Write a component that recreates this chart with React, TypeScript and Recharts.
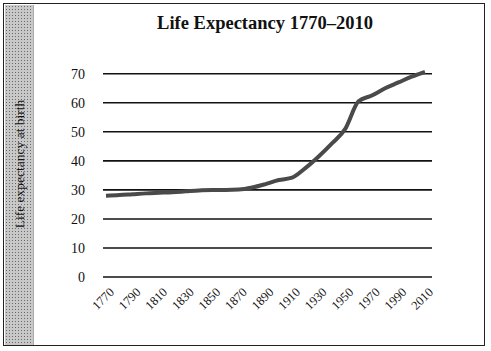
import { CartesianGrid, Line, LineChart, XAxis, YAxis } from 'recharts';

const years = [
  '1770', '1780', '1790', '1800', '1810', '1820', '1830', '1840', '1850', '1860', '1870', '1880', '1890',
  '1900', '1910', '1920', '1930', '1940', '1950', '1960', '1970', '1980', '1990', '2000', '2010',
];
const lifeExpectancy = [
  28, 28.2, 28.5, 28.8, 29, 29.2, 29.5, 29.8, 30, 30, 30.1, 30.8, 32,
  33.4, 34.2, 37.5, 41.5, 46, 51, 60.5, 62.5, 65, 67, 69, 70.6,
];
const yTicks = [0, 10, 20, 30, 40, 50, 60, 70];

const data = years.map((year, i) => ({ year, value: lifeExpectancy[i] }));

const serif = '"Liberation Serif", "DejaVu Serif", serif';

function YearTick(props: any) {
  const { x, y, payload } = props;
  return (
    <g transform={`translate(${x + 6},${y + 5})`}>
      <text transform="rotate(-45)" textAnchor="end" fontFamily={serif} fontSize={12.5} fill="#111" dy={4}>
        {payload.value}
      </text>
    </g>
  );
}

export default function App() {
  return (
    <div style={{ position: 'absolute', left: 0, top: 0, width: 491, height: 351, background: '#fff' }}>
      <div
        style={{
          position: 'absolute', left: 3, top: 3, width: 482, height: 343,
          border: '1.5px solid #222', boxSizing: 'border-box',
        }}
      />
      <div
        style={{
          position: 'absolute', left: 5, top: 5, width: 28, height: 340,
          backgroundColor: '#c8c8c8',
          backgroundImage: 'radial-gradient(#6a6a6a 0.7px, transparent 0.9px)',
          backgroundSize: '3px 3px',
          borderRight: '1px solid #aaa',
        }}
      />
      <div
        style={{
          position: 'absolute', left: 20, top: 164, transform: 'translate(-50%,-50%) rotate(-90deg)',
          whiteSpace: 'nowrap', fontFamily: serif, fontSize: 13.5, color: '#111',
        }}
      >
        Life expectancy at birth
      </div>
      <div
        style={{
          position: 'absolute', left: 265, top: 23, transform: 'translate(-50%,-50%)',
          whiteSpace: 'nowrap', fontFamily: serif, fontSize: 18.5, fontWeight: 'bold', color: '#111',
        }}
      >
        Life Expectancy 1770–2010
      </div>
      <div style={{ position: 'absolute', left: 0, top: 0 }}>
        <LineChart width={491} height={351} data={data} margin={{ top: 72, right: 59, bottom: 34, left: 43 }}>
          <CartesianGrid horizontal vertical={false} syncWithTicks stroke="#111" strokeWidth={1.6} />
          <XAxis
            dataKey="year"
            interval={1}
            axisLine={false}
            tickLine={false}
            height={40}
            padding={{ left: 3, right: 7 }}
            tick={<YearTick />}
          />
          <YAxis
            domain={[0, 70]}
            ticks={yTicks}
            width={60}
            axisLine={false}
            tickLine={false}
            tickMargin={12}
            tick={{ fontFamily: serif, fontSize: 14, fill: '#111' }}
          />
          <Line
            type="monotone"
            dataKey="value"
            stroke="#4a4a4a"
            strokeWidth={4}
            dot={false}
            isAnimationActive={false}
          />
        </LineChart>
      </div>
    </div>
  );
}
